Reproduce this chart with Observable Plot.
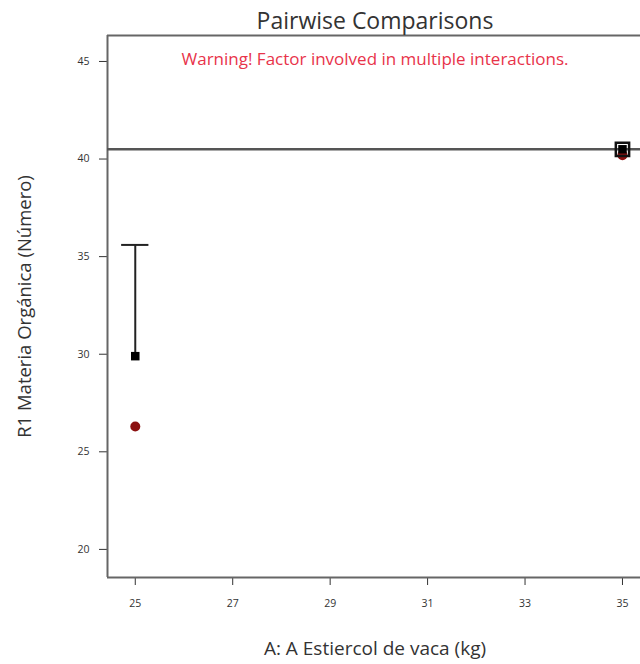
<!DOCTYPE html>
<html><head><meta charset="utf-8">
<script src="https://cdn.jsdelivr.net/npm/d3@7"></script>
<script src="https://cdn.jsdelivr.net/npm/@observablehq/plot@0.6"></script>
<style>body{margin:0;background:#fff;font-family:"Open Sans",sans-serif}</style>
</head><body><div id="chart"></div>
<script>
const title = "Pairwise Comparisons";
const warning = "Warning! Factor involved in multiple interactions.";
const xLabel = "A: A Estiercol de vaca (kg)";
const yLabel = "R1 Materia Orgánica (Número)";
const xTicks = [25, 27, 29, 31, 33, 35];
const yTicks = [20, 25, 30, 35, 40, 45];
const levels = [25, 35];
const predicted = [29.9, 40.5];     // black squares
const actual = [26.3, 40.2];        // red dots
const lsdUpper = [35.6, null];      // error bar top
const refLine = [40.5];
const xDomain = [24.43, 35.37];
const yDomain = [18.56, 46.33];

const pts = levels.map((x, i) => ({x, pred: predicted[i], act: actual[i], up: lsdUpper[i]}));
const bars = pts.filter(d => d.up != null);
const highlight = pts.filter(d => d.x === 35);

const plot = Plot.plot({
  width: 640, height: 664,
  marginLeft: 107, marginTop: 35, marginBottom: 87, marginRight: 0,
  style: {fontFamily: "Open Sans, sans-serif", fontSize: "10.5px", color: "#333", background: "#fff"},
  x: {domain: xDomain, ticks: xTicks, tickSize: 8, tickPadding: 14, label: null, tickFormat: d => d},
  y: {domain: yDomain, ticks: yTicks, tickSize: 8, tickPadding: 10, label: null},
  marks: [
    Plot.ruleX([xDomain[0]], {stroke: "#666", strokeWidth: 2}),
    Plot.ruleY([yDomain[0], yDomain[1]], {stroke: "#666", strokeWidth: 2}),
    Plot.ruleY(refLine, {stroke: "#555", strokeWidth: 2.5}),
    Plot.ruleX(bars, {x: "x", y1: "pred", y2: "up", stroke: "#222", strokeWidth: 2}),
    Plot.ruleY(bars, {y: "up", x1: d => d.x - 0.28, x2: d => d.x + 0.28, stroke: "#222", strokeWidth: 2}),
    Plot.dot(pts, {x: "x", y: "act", r: 5, fill: "#8b1111"}),
    Plot.dot(highlight, {x: "x", y: "pred", symbol: "square", r: 7.5, stroke: "#111", strokeWidth: 2.5, fill: "none"}),
    Plot.dot(pts, {x: "x", y: "pred", symbol: "square", r: 4.8, fill: "#000"}),
    Plot.text([warning], {frameAnchor: "top", dy: 17, dx: 1, fill: "#e8334a", fontSize: 17}),
    Plot.text([title], {frameAnchor: "top", dy: -23, dx: 1, fill: "#333", fontSize: 23}),
    Plot.text([xLabel], {frameAnchor: "bottom", dy: 77, dx: 1, fill: "#333", fontSize: 19}),
    Plot.text([yLabel], {frameAnchor: "left", textAnchor: "middle", dx: -82, dy: 0, rotate: -90, fill: "#333", fontSize: 18.5})
  ]
});
document.getElementById("chart").append(plot);
</script></body></html>
